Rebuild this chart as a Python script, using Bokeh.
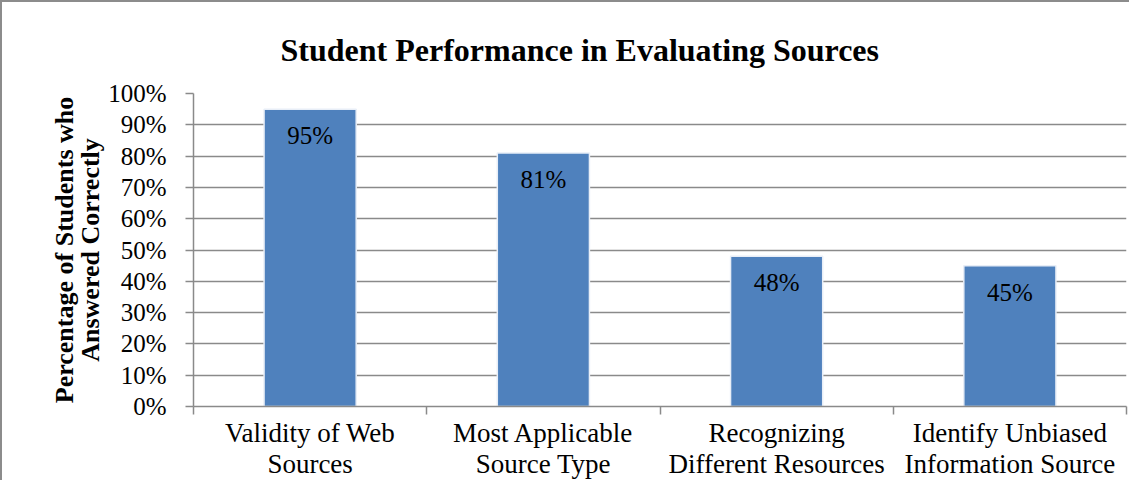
import numpy as np
from bokeh.plotting import figure
from bokeh.models import FixedTicker, NumeralTickFormatter, Range1d, ColumnDataSource
from bokeh.embed import file_html
from bokeh.resources import INLINE
from bokeh.core.properties import value

# ---- data ----
categories = [
    "Validity of Web\nSources",
    "Most Applicable\nSource Type",
    "Recognizing\nDifferent Resources",
    "Identify Unbiased\nInformation Source",
]
values = [0.95, 0.81, 0.48, 0.45]
value_labels = ["95%", "81%", "48%", "45%"]
y_ticks = [0.0, 0.1, 0.2, 0.3, 0.4, 0.5, 0.6, 0.7, 0.8, 0.9, 1.0]
title_text = "Student Performance in Evaluating Sources"
y_label = "Percentage of Students who\nAnswered Correctly"

SERIF = "Liberation Serif"
GRAY = "#8a8a8a"
BAR = "#4F81BD"

n = len(categories)
xs = np.arange(n)
src = ColumnDataSource(dict(x=xs, top=values, label=value_labels))

p = figure(
    width=1129, height=480,
    output_backend="svg", toolbar_location=None,
    x_range=Range1d(-0.5, n - 0.5), y_range=Range1d(0, 1),
    min_border_left=191, min_border_right=5,
    min_border_top=91, min_border_bottom=75,
)
p.outline_line_color = None
p.background_fill_color = "white"
p.border_fill_color = "white"

# title
p.title.text = title_text
p.title.text_font = SERIF
p.title.text_font_size = "32px"
p.title.text_font_style = "bold"
p.title.text_color = "black"
p.title.text_line_height = 1.0
p.title.align = "left"
p.title.offset = 87
p.title.standoff = 52

p.vbar(x="x", top="top", width=0.395, bottom=0, source=src,
       fill_color=BAR, line_color="#e8eef7", line_width=1.5)

p.text(x="x", y="top", text="label", source=src,
       text_font=value(SERIF), text_font_size="25px", text_color="black",
       text_align="center", text_baseline="top", y_offset=13)

# y axis
p.yaxis.ticker = FixedTicker(ticks=y_ticks)
p.yaxis.formatter = NumeralTickFormatter(format="0%")
p.yaxis.major_label_text_font = SERIF
p.yaxis.major_label_text_font_size = "25px"
p.yaxis.major_label_text_color = "black"
p.yaxis.major_tick_out = 8
p.yaxis.major_tick_in = 0
p.yaxis.minor_tick_out = 0
p.yaxis.minor_tick_in = 0
p.yaxis.major_label_standoff = 19
p.yaxis.axis_line_color = GRAY
p.yaxis.major_tick_line_color = GRAY
p.yaxis.axis_line_width = 1.5
p.yaxis.major_tick_line_width = 1.5
p.yaxis.axis_label = y_label
p.yaxis.axis_label_text_font = SERIF
p.yaxis.axis_label_text_font_size = "26px"
p.yaxis.axis_label_text_font_style = "bold"
p.yaxis.axis_label_text_color = "black"
p.yaxis.axis_label_text_line_height = 0.9
p.yaxis.axis_label_standoff = 0

# x axis
p.xaxis.ticker = FixedTicker(ticks=list(xs), minor_ticks=list(np.arange(n + 1) - 0.5))
p.xaxis.major_label_overrides = {int(i): c for i, c in zip(xs, categories)}
p.xaxis.major_label_text_font = SERIF
p.xaxis.major_label_text_font_size = "27px"
p.xaxis.major_label_text_color = "black"
p.xaxis.major_label_text_line_height = 1.05
p.xaxis.major_tick_out = 0
p.xaxis.major_tick_in = 0
p.xaxis.minor_tick_out = 8
p.xaxis.minor_tick_in = 0
p.xaxis.major_label_standoff = 3
p.xaxis.axis_line_color = GRAY
p.xaxis.minor_tick_line_color = GRAY
p.xaxis.axis_line_width = 1.5
p.xaxis.minor_tick_line_width = 1.5

p.xgrid.visible = False
p.ygrid.ticker = FixedTicker(ticks=y_ticks)
p.ygrid.grid_line_color = GRAY
p.ygrid.grid_line_width = 1.5

p.styles = {"border-left": "2px solid #8c8c8c", "border-top": "2px solid #8c8c8c"}

open("out.html", "w").write(file_html(p, INLINE))
